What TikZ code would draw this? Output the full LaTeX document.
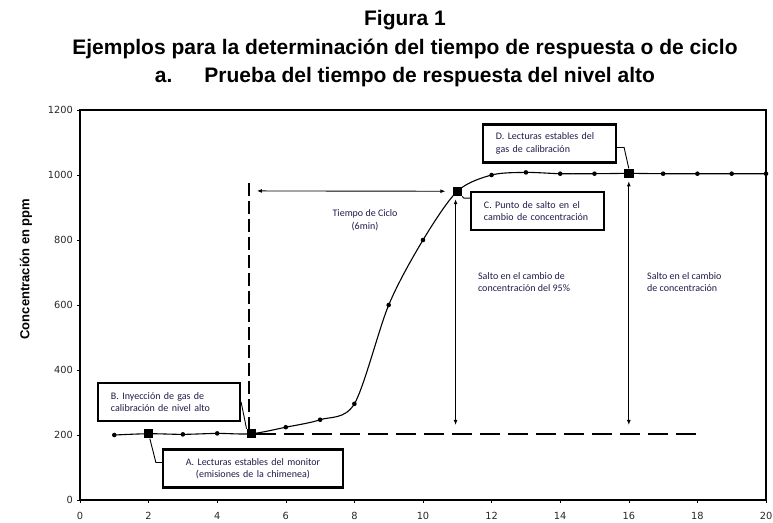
\documentclass[tikz,border=0pt]{standalone}
\usepackage{fontspec}
\setmainfont{Liberation Sans}
\newfontfamily\notefont{Carlito}
\newfontfamily\tickfont{DejaVu Sans}
\usetikzlibrary{arrows.meta}
\definecolor{noteink}{RGB}{36,26,72}
\definecolor{tickink}{RGB}{40,40,40}
\begin{document}
\begin{tikzpicture}[x=34.3pt,y=0.325pt,
    ptdot/.style={circle,fill=black,inner sep=0pt,minimum size=4.6pt},
    sqmark/.style={rectangle,fill=black,inner sep=0pt,minimum size=9.5pt},
    notebox/.style={draw,fill=white,line width=2.2pt,inner xsep=13pt,inner ysep=0pt,
      minimum height=38pt,text width=#1,align=left,text=noteink,
      font=\notefont\fontsize{10}{12.5}\selectfont},
    notetext/.style={inner sep=0pt,align=left,text=noteink,
      font=\notefont\fontsize{10}{12.5}\selectfont},
    leadline/.style={line width=0.9pt},
    spanarrow/.style={line width=0.9pt,{Latex[length=5pt,width=4pt]}-{Latex[length=5pt,width=4pt]}},
    guideline/.style={line width=2pt,dash pattern=on 20pt off 8pt},
    ticklab/.style={inner sep=0pt,text=tickink,font=\tickfont\fontsize{9.8}{11}\selectfont},
    titlefont/.style={font=\bfseries\fontsize{21}{25}\selectfont}]
  \useasboundingbox (-2.332,-67.7) rectangle (20.204,1538.5);
  % title
  \node[titlefont,anchor=base] (fig) at (9.475,1460) {Figura 1};
  \node[titlefont,anchor=base] (figtitle) at (9.475,1372)
    {Ejemplos para la determinación del tiempo de respuesta o de ciclo};
  \node[titlefont,anchor=base] (figsub) at (9.475,1286)
    {a.\hspace{32pt}Prueba del tiempo de respuesta del nivel alto};
  % axes
  \draw[line width=1.8pt] (0,0) rectangle (20,1200);
  \foreach \v in {0,200,...,1200} {
    \draw (0,\v) -- ++(-3pt,0);
    \node[ticklab,anchor=east] at ([xshift=-7pt]0,\v) {\v};
  }
  \foreach \t in {0,2,...,20} {
    \draw (\t,0) -- ++(0,-3pt);
    \node[ticklab,anchor=north] at ([yshift=-12pt]\t,0) {\t};
  }
  \node[rotate=90,font=\bfseries\fontsize{13}{15}\selectfont] (ylab) at (-1.574,710.8)
    {Concentración en ppm};
  % response curve
  \draw[line width=1.1pt] plot[smooth,tension=0.5] coordinates {(1,200) (2,204) (3,202)
    (4,205) (5,204) (6,224) (7,247) (8,296) (9,600) (10,800) (11,950) (12,1000)
    (13,1008) (14,1004) (15,1004) (16,1005) (17,1004) (18,1004) (19,1004) (20,1004)};
  \foreach \t/\v in {1/200,3/202,4/205,6/224,7/247,8/296,9/600,10/800,12/1000,
      13/1008,14/1004,15/1004,17/1004,18/1004,19/1004,20/1004}
    \node[ptdot] (p\t) at (\t,\v) {};
  \foreach \t/\v in {2/204,5/204,11/950,16/1005}
    \node[sqmark] (p\t) at (\t,\v) {};
  % guides
  \coordinate (cyctop) at (4.93,975);
  \coordinate (baseend) at (18.15,204);
  \draw[guideline,dash pattern=on 13pt off 5pt] (cyctop) -- (cyctop |- p5.north);
  \draw[guideline] (p5.east) -- (baseend);
  % spans
  \coordinate (cycstart) at (5.16,951);
  \coordinate (c95) at (10.95,231);
  \coordinate (c100) at (16,231);
  \draw[spanarrow,shorten >=7pt] (cycstart) -- (p11.west);
  \draw[spanarrow,shorten >=3pt] (c95) -- (c95 |- p11.south);
  \draw[spanarrow,shorten >=3pt] (c100) -- (p16.south);
  \node[notetext,align=center] (cyclab) at (8.31,861.5) {Tiempo de Ciclo\\(6min)};
  \node[notetext,anchor=north west] (jump95) at (11.60,701.5)
    {Salto en el cambio de\\concentración del 95\%};
  \node[notetext,anchor=north west] (jumpall) at (16.53,701.5)
    {Salto en el cambio\\de concentración};
  % call-outs
  \node[notebox=116pt] (noteB) at (2.595,301.5) {B. Inyección de gas de\\calibración de nivel alto};
  \node[notebox=154pt,align=center] (noteA) at (5.044,96.9)
    {A. Lecturas estables del monitor\\(emisiones de la chimenea)};
  \node[notebox=107pt] (noteC) at (13.338,889) {C. Punto de salto en el\\cambio de concentración};
  \node[notebox=107pt] (noteD) at (13.688,1097) {D. Lecturas estables del\\gas de calibración};
  \draw[leadline] (noteB.east) -- (p5.north west);
  \draw[leadline] (p2) -- ([xshift=-6pt,yshift=6pt]noteA.west) -- ([yshift=6pt]noteA.west);
  \draw[leadline] (p11) -- ([xshift=-6pt,yshift=13pt]noteC.west) -- ([yshift=13pt]noteC.west);
  \draw[leadline] ([yshift=-4pt]noteD.east) -- ([xshift=7pt,yshift=-4pt]noteD.east) -- (p16.north);
\end{tikzpicture}
\end{document}
